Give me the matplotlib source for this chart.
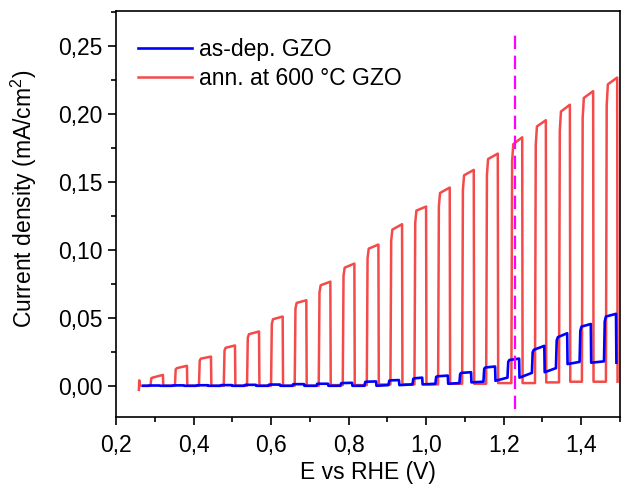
import numpy as np
import matplotlib
matplotlib.use("Agg")
import matplotlib.pyplot as plt
from matplotlib.ticker import MultipleLocator, FuncFormatter

plt.rcParams['font.family'] = ['Liberation Sans', 'DejaVu Sans']
plt.rcParams['font.size'] = 16.5
plt.rcParams['mathtext.default'] = 'regular'

# annealed film: light-on / light-off potentials (V) and current levels (mA/cm2)
red_on = [0.289, 0.352, 0.414, 0.478, 0.538, 0.600, 0.661, 0.723, 0.785, 0.847,
          0.908, 0.970, 1.031, 1.093, 1.155, 1.220, 1.281, 1.343, 1.402, 1.464]
red_off = [0.321, 0.383, 0.445, 0.507, 0.569, 0.630, 0.691, 0.753, 0.815, 0.877,
           0.938, 1.000, 1.061, 1.123, 1.185, 1.248, 1.309, 1.371, 1.431, 1.493]
red_top_start = [0.006, 0.013, 0.020, 0.028, 0.038, 0.049, 0.061, 0.074, 0.087, 0.101,
                 0.115, 0.129, 0.142, 0.155, 0.167, 0.178, 0.191, 0.202, 0.212, 0.222]
red_top_end = [0.008, 0.0147, 0.0215, 0.0297, 0.040, 0.051, 0.063, 0.0767, 0.090, 0.104,
               0.119, 0.132, 0.146, 0.159, 0.171, 0.183, 0.1956, 0.207, 0.217, 0.227]
red_dark = [0.0, 0.0, 0.0, 0.0, 0.0, 0.0, 0.0, 0.0005, 0.0005, 0.001,
            0.001, 0.001, 0.0015, 0.0015, 0.002, 0.002, 0.0025, 0.003, 0.003, 0.003]
red_lead_v = [0.259, 0.260, 0.261, 0.289]
red_lead_j = [-0.003, 0.004, 0.0, 0.0]

# as-deposited film
blue_on = [0.283, 0.345, 0.407, 0.469, 0.531, 0.593, 0.655, 0.717, 0.779, 0.841,
           0.903, 0.965, 1.024, 1.086, 1.148, 1.210, 1.273, 1.335, 1.396, 1.459]
blue_off = [0.313, 0.375, 0.437, 0.499, 0.561, 0.623, 0.685, 0.747, 0.809, 0.871,
            0.930, 0.990, 1.056, 1.116, 1.178, 1.240, 1.305, 1.364, 1.425, 1.490]
blue_top_start = [0.0002, 0.0003, 0.0004, 0.0005, 0.0007, 0.0009, 0.0012, 0.0015, 0.002, 0.003,
                  0.004, 0.0055, 0.007, 0.0095, 0.0135, 0.019, 0.0265, 0.0358, 0.0436, 0.051]
blue_top_end = [0.0002, 0.0003, 0.0004, 0.0005, 0.0007, 0.0009, 0.0012, 0.0015, 0.0022, 0.0032,
                0.0042, 0.006, 0.0075, 0.010, 0.0142, 0.020, 0.0294, 0.0387, 0.0455, 0.053]
blue_dark_lo = [0.0, 0.0, 0.0, 0.0, 0.0, 0.0, 0.0, 0.0, 0.0, 0.0,
                0.0005, 0.001, 0.0015, 0.0025, 0.0037, 0.006, 0.010, 0.016, 0.017, 0.017]
blue_dark_hi = [0.0, 0.0, 0.0, 0.0, 0.0, 0.0, 0.0, 0.0, 0.0, 0.0005,
                0.001, 0.0015, 0.002, 0.003, 0.006, 0.0095, 0.013, 0.0176, 0.018, 0.017]
blue_lead_v = [0.270, 0.283]
blue_lead_j = [0.0, 0.0]

v_rhe_water = 1.23


def chopped(lead_v, lead_j, on, off, t0, t1, d_lo, d_hi):
    xs = list(lead_v)
    ys = list(lead_j)
    for i in range(len(on)):
        # quick rise with a rounded shoulder, slow growth on top, sharp drop
        xs += [on[i], on[i] + 0.002, on[i] + 0.005, off[i], off[i] + 0.001]
        ys += [ys[-1], t0[i] * 0.93, t0[i], t1[i], d_lo[i]]
        if i + 1 < len(on):
            xs.append(on[i + 1])
            ys.append(d_hi[i])
    return np.array(xs), np.array(ys)


rx, ry = chopped(red_lead_v, red_lead_j, red_on, red_off,
                 red_top_start, red_top_end, red_dark, red_dark)
bx, by = chopped(blue_lead_v, blue_lead_j, blue_on, blue_off,
                 blue_top_start, blue_top_end, blue_dark_lo, blue_dark_hi)

fig = plt.figure(figsize=(6.21, 4.92), dpi=100)
ax = fig.add_axes([0.1868, 0.1524, 0.8114, 0.8252])

l_red, = ax.plot(rx, ry, color='#f44a4a', lw=1.8, label='ann. at 600 °C GZO')
l_blue, = ax.plot(bx, by, color='#0000ff', lw=1.9, label='as-dep. GZO')
ax.plot([v_rhe_water, v_rhe_water], [-0.017, 0.262], color='#ff00ff',
        lw=1.6, dashes=(6, 3))

ax.set_xlim(0.2, 1.5)
ax.set_ylim(-0.023, 0.276)
ax.xaxis.set_major_locator(MultipleLocator(0.2))
ax.xaxis.set_minor_locator(MultipleLocator(0.1))
ax.yaxis.set_major_locator(MultipleLocator(0.05))
ax.yaxis.set_minor_locator(MultipleLocator(0.025))
ax.xaxis.set_major_formatter(FuncFormatter(lambda v, p: f'{v:.1f}'.replace('.', ',')))
ax.yaxis.set_major_formatter(FuncFormatter(lambda v, p: f'{v:.2f}'.replace('.', ',')))
ax.tick_params(which='major', direction='out', length=6, width=1.2)
ax.tick_params(which='minor', direction='out', length=3.5, width=1.2)
ax.tick_params(axis='x', which='major', pad=6)
for s in ax.spines.values():
    s.set_linewidth(1.2)

ax.set_xlabel('E vs RHE (V)', labelpad=3)
ax.set_ylabel('Current density (mA/cm$^2$)')
ax.yaxis.set_label_coords(-0.153, 0.537)

ax.legend(handles=[l_blue, l_red], loc='upper left', frameon=False,
          bbox_to_anchor=(0.0254, 0.956), borderaxespad=0,
          handlelength=2.35, handletextpad=0.3, labelspacing=0.25,
          fontsize=16.5)

fig.savefig('out.png', dpi=100)
